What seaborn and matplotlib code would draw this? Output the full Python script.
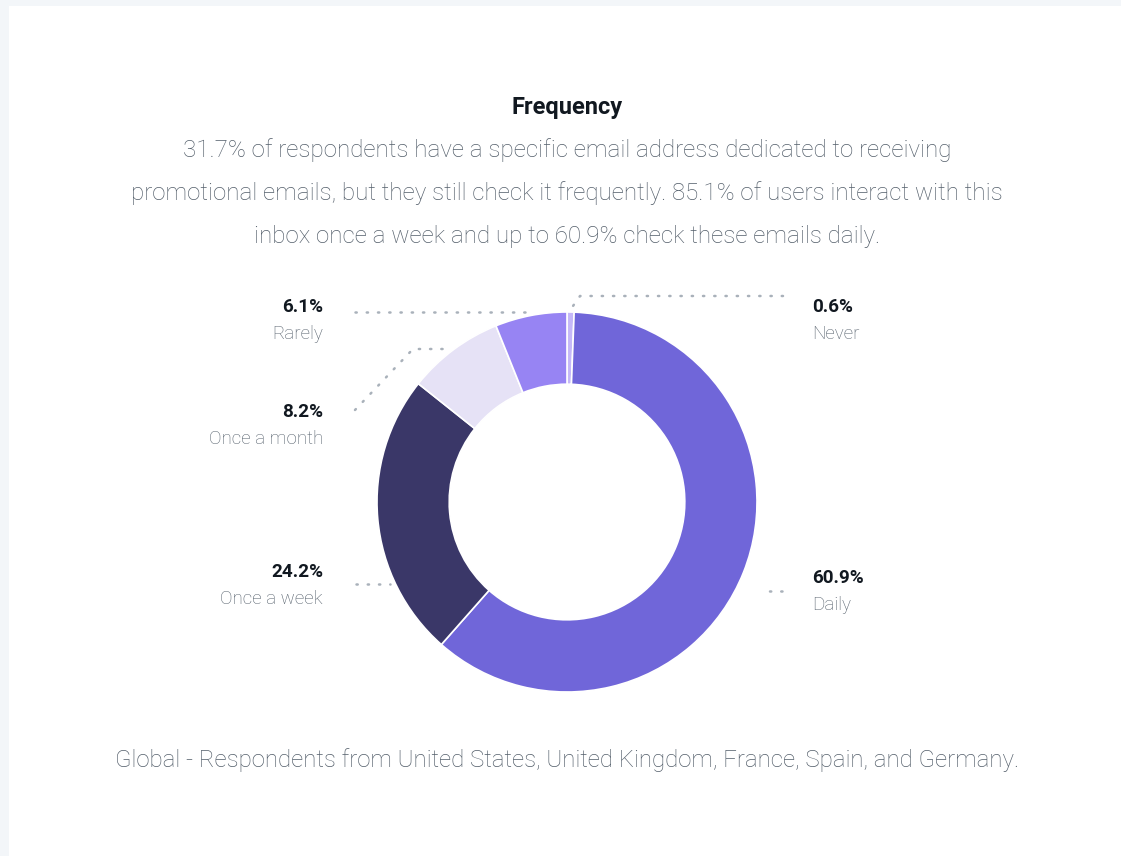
import matplotlib.pyplot as plt
import matplotlib.patches as mpatches
import seaborn as sns

sns.set_theme(style="white")
plt.rcParams['font.family'] = ['Roboto', 'DejaVu Sans']

# data, clockwise from 12 o'clock
categories = ["Never", "Daily", "Once a week", "Once a month", "Rarely"]
shares = [0.6, 60.9, 24.2, 8.2, 6.1]
colors = ["#c5b8f8", "#7066d9", "#3a3768", "#e6e2f6", "#9784f3"]

title = "Frequency"
subtitle = ["31.7% of respondents have a specific email address dedicated to receiving",
            "promotional emails, but they still check it frequently. 85.1% of users interact with this",
            "inbox once a week and up to 60.9% check these emails daily."]
footer = "Global - Respondents from United States, United Kingdom, France, Spain, and Germany."

W, H = 1121, 856
fig = plt.figure(figsize=(W / 100, H / 100), dpi=100)
fig.patch.set_facecolor("#f3f6f9")
ax = fig.add_axes([0, 0, 1, 1])

def py(y):
    # pixel row from top -> data y
    return H - y

cx, cy, R = 567, py(502), 190
wedges, _ = ax.pie(shares, colors=colors, startangle=90, counterclock=False,
                   center=(cx, cy), radius=R,
                   wedgeprops=dict(width=R * 0.38, edgecolor="white", linewidth=1.2))
ax.set_xlim(0, W)
ax.set_ylim(0, H)
ax.set_aspect("equal")
ax.axis("off")

# white card behind everything
ax.add_patch(mpatches.Rectangle((9, 0), W - 9, py(6), facecolor="white",
                                edgecolor="none", zorder=-5))

grey = "#535e6a"
dark = "#111820"

# titles
ax.text(567, py(107), title, ha="center", va="center", fontsize=17, fontweight="bold", color=dark)
for i, line in enumerate(subtitle):
    ax.text(567, py(150 + 43 * i), line, ha="center", va="center", fontsize=17.4,
            fontweight="light", color=grey)
ax.text(567, py(760), footer, ha="center", va="center", fontsize=17.3,
        fontweight="light", color=grey)

# label layout: (x, y of pct, alignment, connector path in px)
label_layout = {
    "Never": (812, 307, "left", [(783, 296), (580, 296), (573, 306)]),
    "Daily": (812, 578, "left", [(782, 591), (762, 591)]),
    "Once a week": (323, 572, "right", [(356, 584), (390, 584)]),
    "Once a month": (323, 412, "right", [(355, 410), (413, 349), (445, 349)]),
    "Rarely": (323, 307, "right", [(355, 312), (528, 312)]),
}

for cat, val in zip(categories, shares):
    lx, ly, ha, path = label_layout[cat]
    ax.text(lx, py(ly), f"{val:.1f}%", ha=ha, va="center", fontsize=13.6,
            fontweight="bold", color=dark)
    ax.text(lx, py(ly + 27), cat, ha=ha, va="center", fontsize=13.5,
            fontweight="light", color=grey)
    xs = [p[0] for p in path]
    ys = [py(p[1]) for p in path]
    ax.plot(xs, ys, color="#a9b1ba", linewidth=1.8, linestyle=(0, (0.5, 4)),
            solid_capstyle="round", dash_capstyle="round")

fig.savefig("out.png", dpi=100, facecolor=fig.get_facecolor())
